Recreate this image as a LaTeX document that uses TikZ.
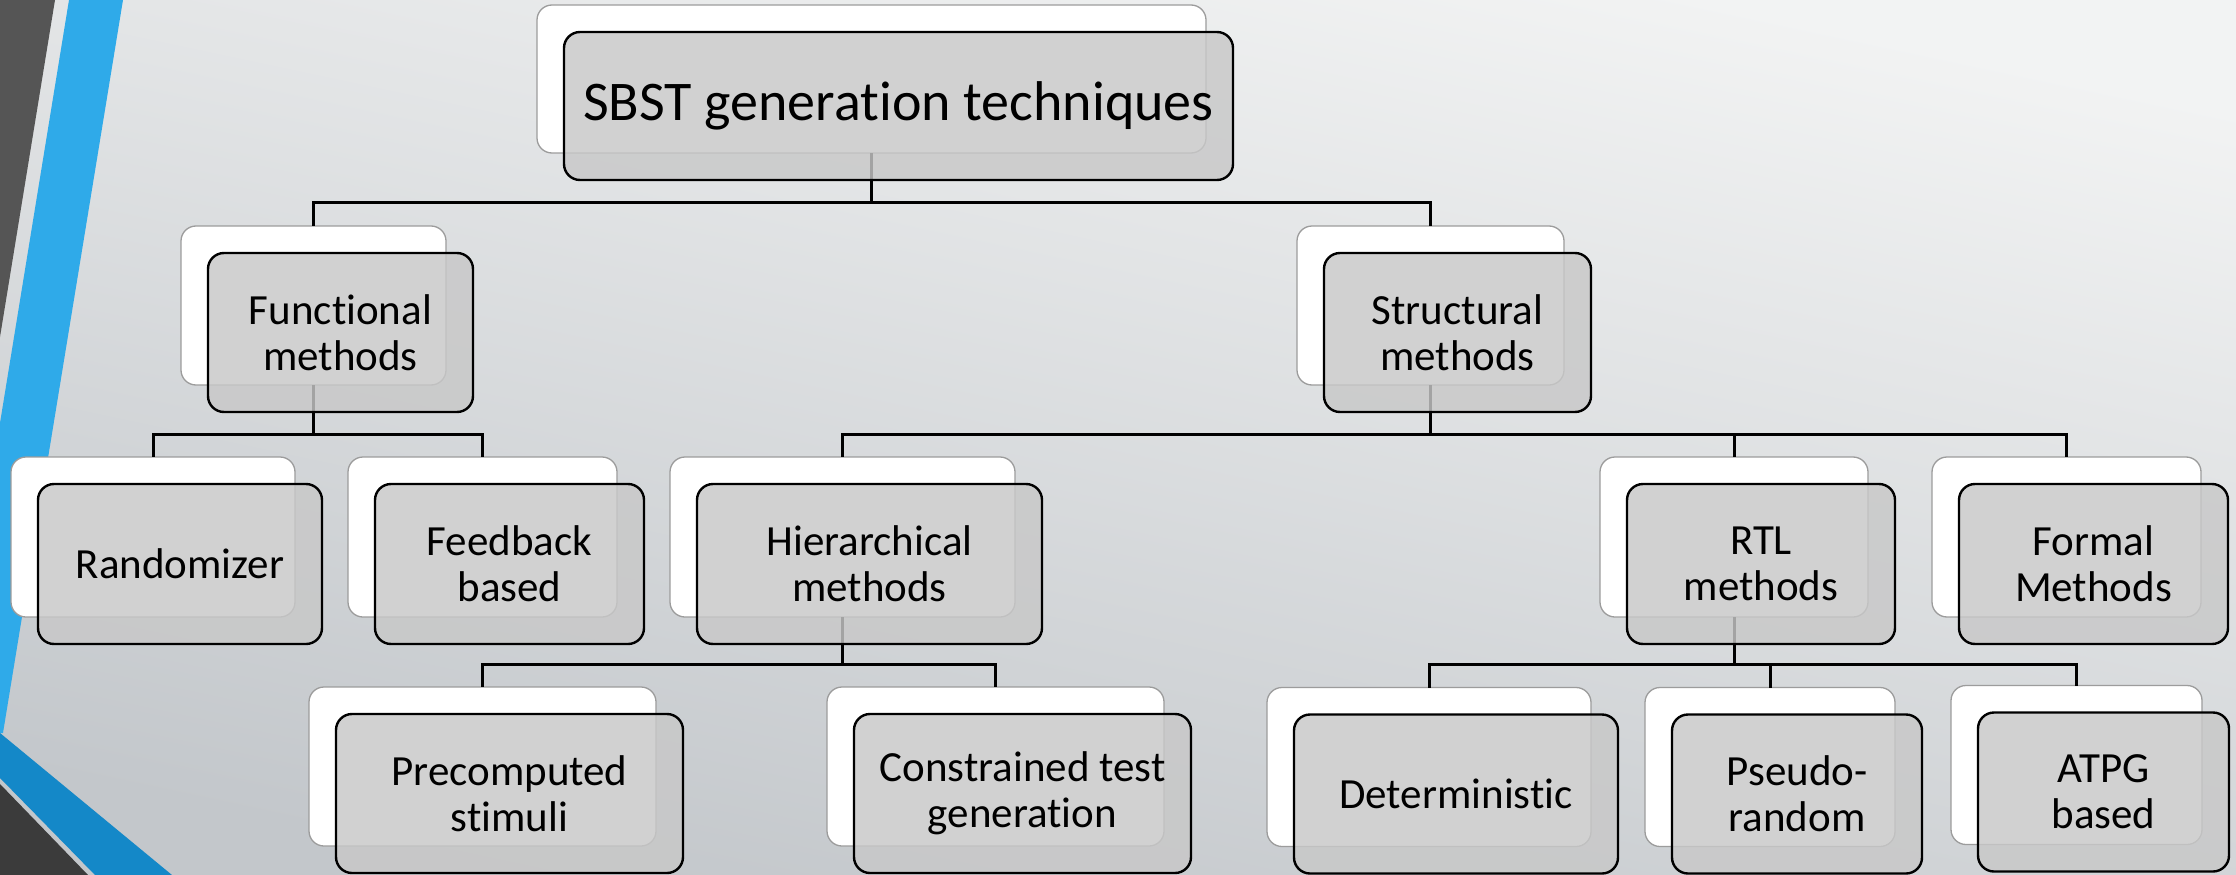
\documentclass[tikz,border=0pt]{standalone}
\usepackage{fontspec}
\setmainfont[Ligatures=NoCommon]{Carlito}
\usetikzlibrary{positioning}

\definecolor{paperTop}{HTML}{F2F3F3}
\definecolor{paperBot}{HTML}{C3C7CB}
\definecolor{stripeDark}{HTML}{555555}
\definecolor{stripeBlue}{HTML}{2FAAE9}
\definecolor{bandBlue}{HTML}{1488C8}
\definecolor{bandDark}{HTML}{3B3B3B}
\definecolor{cardFill}{HTML}{C8C8C8}
\definecolor{cardEdge}{HTML}{9C9C9C}

\pgfdeclarelayer{paper}
\pgfdeclarelayer{backs}
\pgfdeclarelayer{wires}
\pgfsetlayers{paper,backs,wires,main}

\tikzset{
  backbox/.style={rectangle, rounded corners=15pt, draw=cardEdge, line width=1.3pt,
    fill=white, inner sep=0pt, outer sep=0pt},
  frontbox/.style={rectangle, rounded corners=16pt, draw=black, line width=2.4pt,
    fill=cardFill, fill opacity=0.82, text opacity=1, inner sep=0pt, outer sep=0pt,
    align=center, font=\fontsize{43}{46}\selectfont},
  wire/.style={line width=3pt, black},
}

% #1 name, #2/#3 centre of the white card, #4/#5 size, #6 label
\newcommand\tiercard[6]{%
  \begin{pgfonlayer}{backs}
    \node[backbox, minimum width=#4pt, minimum height=#5pt] (#1B) at (#2,#3) {};
  \end{pgfonlayer}
  \node[frontbox, minimum width=#4pt, minimum height=#5pt] (#1)
    at ([shift={(27,27)}]#1B.center) {#6};
}

\begin{document}
\begin{tikzpicture}[x=1pt, y=-1pt]
  \useasboundingbox (0,0) rectangle (2236,875);

  % slide background and corner decoration
  \begin{pgfonlayer}{paper}
    \shade[top color=paperTop, bottom color=paperBot, shading angle=-12]
      (0,0) rectangle (2236,875);
    \fill[stripeDark] (0,0) -- (55,0) -- (0,337) -- cycle;
    \fill[stripeBlue] (69,0) -- (123,0) -- (3,733) -- (0,733) -- (0,423) -- cycle;
    \fill[bandBlue] (0,733) -- (172,875) -- (95,875) -- (0,778) -- cycle;
    \fill[bandDark] (0,784) -- (88,875) -- (0,875) -- cycle;
  \end{pgfonlayer}

  % cards
  \tiercard{sbst}{871.5}{79}{669}{148}{\fontsize{56}{60}\selectfont SBST generation techniques}

  \tiercard{func}{313.5}{305.5}{265}{159}{Functional\\methods}
  \tiercard{struct}{1430.5}{305.5}{267}{159}{Structural\\methods}

  \tiercard{rand}{153}{537}{284}{160}{Randomizer}
  \tiercard{feed}{482.5}{537}{269}{160}{Feedback\\based}
  \tiercard{hier}{842.5}{537}{345}{160}{Hierarchical\\methods}
  \tiercard{rtl}{1734}{537}{268}{160}{RTL\\methods}
  \tiercard{formal}{2066.5}{537}{269}{160}{Formal\\Methods}

  \tiercard{precomp}{482.5}{766.5}{347}{159}{Precomputed\\stimuli}
  \tiercard{constr}{995.5}{766.5}{337}{159}{Constrained test\\generation}
  \tiercard{determ}{1429}{767}{324}{159}{Deterministic}
  \tiercard{pseudo}{1770}{767}{250}{159}{Pseudo-\\random}
  \tiercard{atpg}{2076.5}{765}{251}{159}{ATPG\\based}

  % connectors
  \begin{pgfonlayer}{wires}
    \coordinate (busA) at (0,202);
    \coordinate (busB) at (0,434);
    \coordinate (busC) at (0,664);

    \foreach \kid in {func,struct}
      \draw[wire] (sbstB.south) -- (sbstB.south |- busA) -| (\kid B.north);
    \foreach \kid in {rand,feed}
      \draw[wire] (funcB.south) -- (funcB.south |- busB) -| (\kid B.north);
    \foreach \kid in {hier,rtl,formal}
      \draw[wire] (structB.south) -- (structB.south |- busB) -| (\kid B.north);
    \foreach \kid in {precomp,constr}
      \draw[wire] (hierB.south) -- (hierB.south |- busC) -| (\kid B.north);
    \foreach \kid in {determ,pseudo,atpg}
      \draw[wire] (rtlB.south) -- (rtlB.south |- busC) -| (\kid B.north);
  \end{pgfonlayer}
\end{tikzpicture}
\end{document}
